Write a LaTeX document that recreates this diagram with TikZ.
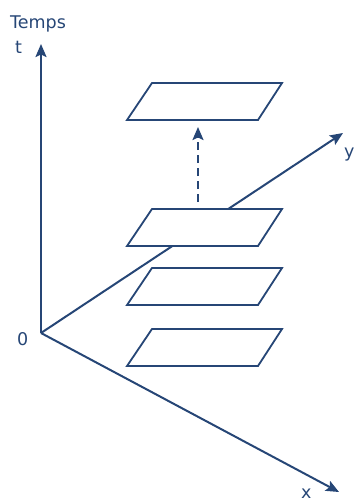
\documentclass[tikz,border=0pt]{standalone}
\usepackage{fontspec}
\setmainfont{DejaVu Sans}
\usepackage{xcolor}
\usepackage{tikz}
\usetikzlibrary{arrows.meta}
\definecolor{axisblue}{RGB}{38,70,118}

\begin{document}
\begin{tikzpicture}[x=1pt, y=-1pt,
    axis/.style={draw=axisblue, line width=2pt, -{Stealth[length=13pt,width=11pt,inset=2.5pt]}},
    plane/.style={draw=axisblue, line width=1.8pt, fill=white, line join=miter},
    jump/.style={draw=axisblue, line width=2pt, dash pattern=on 8pt off 5pt, -{Stealth[length=13pt,width=11pt,inset=2.5pt]}},
    lbl/.style={text=axisblue, font=\fontsize{17.5}{20}\selectfont, inner sep=0pt, anchor=base west}
]
\useasboundingbox (0,0) rectangle (355,501);
% axes
\coordinate (O) at (41,333);
\coordinate (tend) at (41,44);
\coordinate (xend) at (339,492);
\coordinate (yend) at (343,133);
\draw[axis] (O) -- (tend);
\draw[axis] (O) -- (xend);
\draw[axis] (O) -- (yend);
% planes
\foreach \name/\yy in {p1/83,p2/209,p3/268,p4/329}{
  \draw[plane] (127,\yy+37) -- (258,\yy+37) -- (282,\yy) -- (152,\yy) -- cycle;
}
\coordinate (from) at (198,202);
\coordinate (to) at (198,127);
\draw[jump] (from) -- (to);
% labels
\node[lbl] (temps) at (10,28) {Temps};
\node[lbl] (tlab) at (15,53) {t};
\node[lbl] (zero) at (17,345) {0};
\node[lbl] (xlab) at (301,498) {x};
\node[lbl] (ylab) at (344,157) {y};
\end{tikzpicture}
\end{document}
